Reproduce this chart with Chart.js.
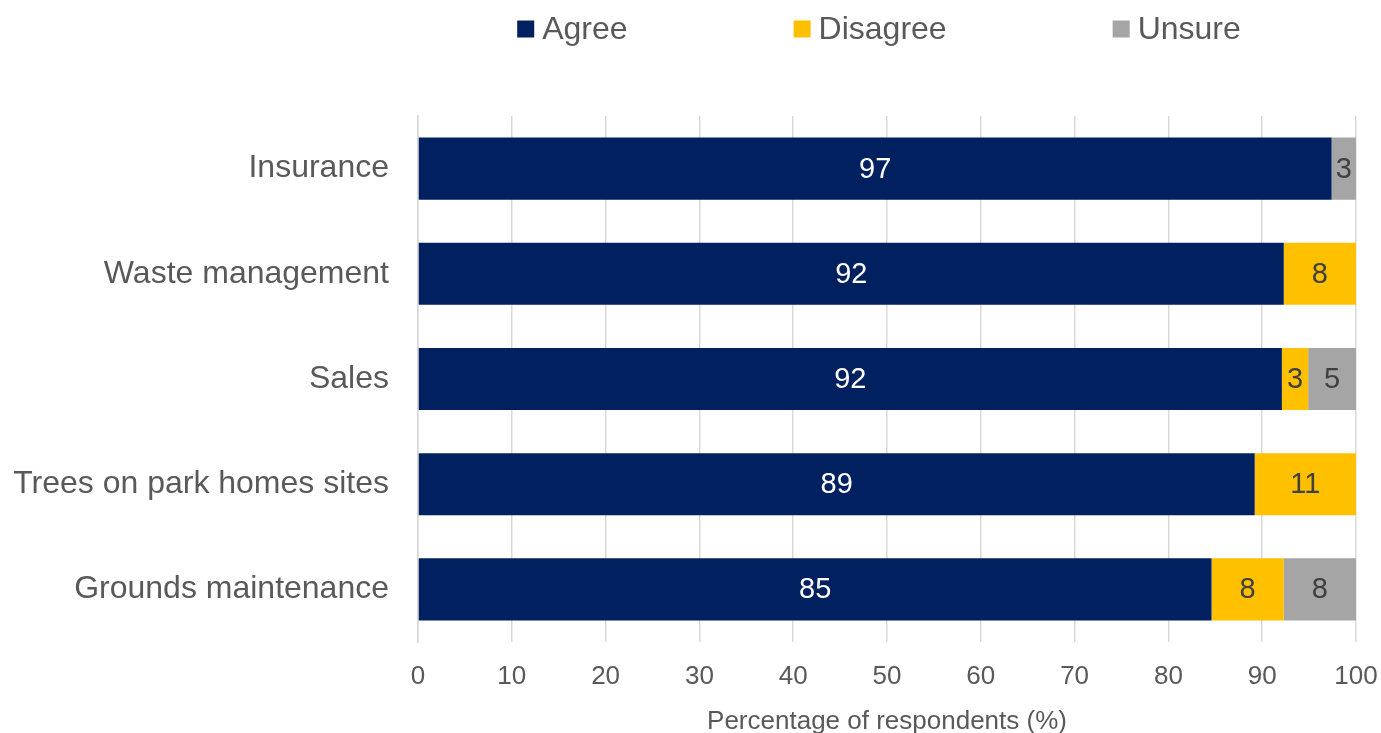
<!DOCTYPE html>
<html>
<head>
<meta charset="utf-8">
<script src="https://cdn.jsdelivr.net/npm/chart.js@4/dist/chart.umd.min.js"></script>
<style>
    html, body { margin: 0; padding: 0; background: #ffffff; }
    #wrap { width: 1381px; height: 733px; position: relative; }
</style>
</head>
<body>
<div id="wrap"><canvas id="surveyChart" width="1381" height="733"></canvas></div>
<script>
// ===============================
// DATA
// ===============================

const categories = [
    "Insurance",
    "Waste management",
    "Sales",
    "Trees on park homes sites",
    "Grounds maintenance"
];

const agreeValues = [97.4, 92.3, 92.1, 89.2, 84.6];

const disagreeValues = [0, 7.7, 2.8, 10.8, 7.7];

const unsureValues = [2.6, 0, 5.1, 0, 7.7];

const xTicks = [0, 10, 20, 30, 40, 50, 60, 70, 80, 90, 100];

const seriesNames = ["Agree", "Disagree", "Unsure"];

const seriesColors = ["#002060", "#FFC000", "#A5A5A5"];

const labelColors = ["#ffffff", "#404040", "#404040"];

const FONT = "'Liberation Sans', Arial, sans-serif";

// ===============================
// DATA LABELS (rounded values)
// ===============================

const barLabels = {
    id: "barLabels",
    afterDatasetsDraw(chart) {
        const ctx = chart.ctx;
        ctx.save();
        ctx.font = "29px " + FONT;
        ctx.textAlign = "center";
        ctx.textBaseline = "middle";
        chart.data.datasets.forEach((ds, di) => {
            const meta = chart.getDatasetMeta(di);
            meta.data.forEach((bar, i) => {
                const v = ds.data[i];
                if (!v) return;
                const p = bar.getCenterPoint();
                ctx.fillStyle = labelColors[di];
                ctx.fillText(String(Math.round(v)), p.x, p.y + 1);
            });
        });
        ctx.restore();
    }
};

// ===============================
// LEGEND (wide spacing on top)
// ===============================

const topLegend = {
    id: "topLegend",
    afterDraw(chart) {
        const ctx = chart.ctx;
        const box = 17;
        const gapText = 8;
        const gapItem = 166;
        const centerX = 879;
        const y = 29;
        ctx.save();
        ctx.font = "32px " + FONT;
        const widths = seriesNames.map(n => box + gapText + ctx.measureText(n).width);
        const total = widths.reduce((a, b) => a + b, 0) + gapItem * (widths.length - 1);
        let x = centerX - total / 2;
        ctx.textBaseline = "middle";
        ctx.textAlign = "left";
        seriesNames.forEach((name, i) => {
            ctx.fillStyle = seriesColors[i];
            ctx.fillRect(x, y - box / 2, box, box);
            ctx.fillStyle = "#595959";
            ctx.fillText(name, x + box + gapText, y + 1);
            x += widths[i] + gapItem;
        });
        ctx.restore();
    }
};

// ===============================
// CHART
// ===============================

function makeDataset(i, values) {
    return {
        label: seriesNames[i],
        data: values,
        backgroundColor: seriesColors[i],
        borderWidth: 0,
        categoryPercentage: 1,
        barPercentage: 0.59
    };
}

new Chart(document.getElementById("surveyChart"), {

    type: "bar",

    data: {
        labels: categories,
        datasets: [
            makeDataset(0, agreeValues),
            makeDataset(1, disagreeValues),
            makeDataset(2, unsureValues)
        ]
    },

    plugins: [barLabels, topLegend],

    options: {
        indexAxis: "y",
        responsive: false,
        animation: false,
        layout: {
            padding: { top: 116, right: 25, left: 0, bottom: 0 }
        },
        plugins: {
            legend: { display: false },
            tooltip: { enabled: false }
        },
        scales: {
            x: {
                stacked: true,
                min: 0,
                max: 100,
                afterFit: scale => {
                    scale.height = 91;
                    scale.paddingRight = 0;
                    scale.paddingLeft = 0;
                },
                afterBuildTicks: scale => {
                    scale.ticks = xTicks.map(v => ({ value: v }));
                },
                grid: {
                    color: "#d9d9d9",
                    lineWidth: 1.5,
                    drawTicks: false
                },
                border: { display: false },
                ticks: {
                    color: "#595959",
                    padding: 19,
                    font: { family: FONT, size: 26 }
                },
                title: {
                    display: true,
                    text: "Percentage of respondents (%)",
                    color: "#595959",
                    font: { family: FONT, size: 26 },
                    padding: { top: 0, bottom: -4 }
                }
            },
            y: {
                stacked: true,
                afterFit: scale => { scale.width = 418; },
                grid: { display: false, drawTicks: false },
                border: { display: true, color: "#d9d9d9", width: 1.5 },
                ticks: {
                    color: "#595959",
                    padding: 29,
                    font: { family: FONT, size: 32 }
                }
            }
        }
    }
});
</script>
</body>
</html>
